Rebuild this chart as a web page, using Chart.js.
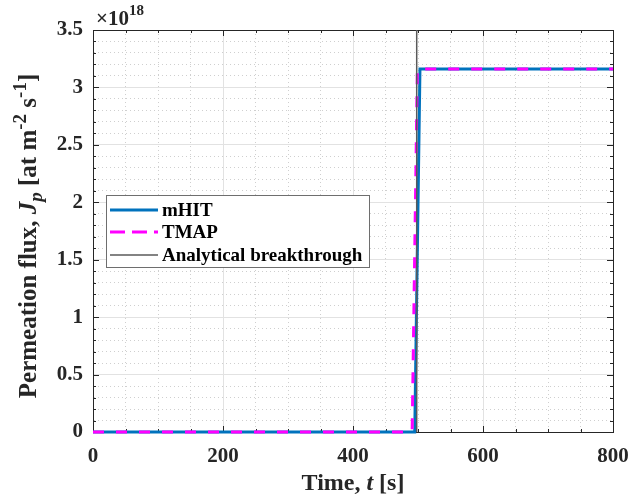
<!DOCTYPE html>
<html>
<head>
<meta charset="utf-8">
<script src="https://cdn.jsdelivr.net/npm/chart.js@4.4.1/dist/chart.umd.min.js"></script>
<style>
  html, body { margin: 0; padding: 0; background: #fff; }
</style>
</head>
<body>
<canvas id="myChart" width="632" height="500"></canvas>
<script>
// data (flux in units of 1e18 at m^-2 s^-1)
const mhitTime = [0, 495, 503, 800];
const mhitFlux = [0, 0, 3.16, 3.16];
const tmapTime = [0, 491, 499, 800];
const tmapFlux = [0, 0, 3.16, 3.16];
const breakthroughTime = 498;
const timeRange = [0, 800];
const fluxRange = [0, 3.5];
const xTickLabels = [0, 200, 400, 600, 800];
const yTickLabels = [0, 0.5, 1, 1.5, 2, 2.5, 3, 3.5];
const fluxExponent = "18";
const seriesLabels = ["mHIT", "TMAP", "Analytical breakthrough"];

const FONT = "'Liberation Serif', 'Times New Roman', serif";
const INK = "#262626";

const isMajorX = v => xTickLabels.some(l => Math.abs(l - v) < 1e-6);
const isMajorY = v => yTickLabels.some(l => Math.abs(l - v) < 1e-6);

const toPoints = (xs, ys) => xs.map((x, i) => ({ x: x, y: ys[i] }));

// MATLAB-ish box, inward ticks, labels and legend
const decorations = {
  id: "decorations",
  beforeDatasetsDraw(chart) {
    const ctx = chart.ctx;
    const a = chart.chartArea;
    const xs = chart.scales.x, ys = chart.scales.y;
    ctx.save();
    ctx.strokeStyle = INK;
    ctx.lineWidth = 1;
    ctx.beginPath();
    xs.ticks.forEach(t => {
      const px = Math.round(xs.getPixelForValue(t.value)) + 0.5;
      const len = isMajorX(t.value) ? 6 : 3;
      ctx.moveTo(px, a.bottom); ctx.lineTo(px, a.bottom - len);
      ctx.moveTo(px, a.top); ctx.lineTo(px, a.top + len);
    });
    ys.ticks.forEach(t => {
      const py = Math.round(ys.getPixelForValue(t.value)) + 0.5;
      const len = isMajorY(t.value) ? 6 : 3;
      ctx.moveTo(a.left, py); ctx.lineTo(a.left + len, py);
      ctx.moveTo(a.right, py); ctx.lineTo(a.right - len, py);
    });
    ctx.stroke();
    ctx.strokeRect(Math.round(a.left) + 0.5, Math.round(a.top) + 0.5,
      Math.round(a.right - a.left), Math.round(a.bottom - a.top));
    ctx.restore();
  },
  afterDatasetsDraw(chart) {
    const ctx = chart.ctx;
    const a = chart.chartArea;
    ctx.save();

    // exponent
    ctx.fillStyle = INK;
    ctx.textBaseline = "alphabetic";
    ctx.textAlign = "left";
    ctx.font = "bold 21px " + FONT;
    ctx.fillText("\u00d710", a.left + 3, a.top - 5);
    const w10 = ctx.measureText("\u00d710").width;
    ctx.font = "bold 15px " + FONT;
    ctx.fillText(fluxExponent, a.left + 3 + w10, a.top - 15);

    // x title
    const xParts = [
      { t: "Time, ", f: "bold 24px " },
      { t: "t", f: "italic bold 24px " },
      { t: " [s]", f: "bold 24px " }
    ];
    drawParts(ctx, xParts, (a.left + a.right) / 2, 490);

    // y title (rotated)
    const yParts = [
      { t: "Permeation flux, ", f: "bold 25px " },
      { t: "J", f: "italic bold 25px " },
      { t: "p", f: "italic bold 19px ", dy: 6 },
      { t: " [at m", f: "bold 25px " },
      { t: "-2", f: "bold 19px ", dy: -10 },
      { t: " s", f: "bold 25px " },
      { t: "-1", f: "bold 19px ", dy: -10 },
      { t: "]", f: "bold 25px " }
    ];
    ctx.save();
    ctx.translate(36, 236);
    ctx.rotate(-Math.PI / 2);
    drawParts(ctx, yParts, 0, 0);
    ctx.restore();

    // legend
    const lx = 106, ly = 195, lw = 263, lh = 72;
    ctx.fillStyle = "#ffffff";
    ctx.fillRect(lx, ly, lw, lh);
    ctx.strokeStyle = "#6e6e6e";
    ctx.lineWidth = 1;
    ctx.strokeRect(lx + 0.5, ly + 0.5, lw, lh);
    const rows = [210, 232, 255];
    chart.data.datasets.forEach((ds, i) => {
      ctx.save();
      ctx.strokeStyle = ds.borderColor;
      ctx.lineWidth = ds.borderWidth;
      ctx.setLineDash(i === 1 ? [15, 7] : []);
      ctx.beginPath();
      ctx.moveTo(110, rows[i]);
      ctx.lineTo(158, rows[i]);
      ctx.stroke();
      ctx.restore();
      ctx.fillStyle = "#000";
      ctx.font = "bold 19px " + FONT;
      ctx.textBaseline = "middle";
      ctx.textAlign = "left";
      ctx.fillText(ds.label, 162, rows[i] + 1);
    });

    ctx.restore();
  }
};

function drawParts(ctx, parts, cx, baseY) {
  let total = 0;
  parts.forEach(p => { ctx.font = p.f + FONT; p.w = ctx.measureText(p.t).width; total += p.w; });
  let x = cx - total / 2;
  ctx.fillStyle = INK;
  ctx.textAlign = "left";
  ctx.textBaseline = "alphabetic";
  parts.forEach(p => {
    ctx.font = p.f + FONT;
    ctx.fillText(p.t, x, baseY + (p.dy || 0));
    x += p.w;
  });
}

const ctx = document.getElementById("myChart").getContext("2d");
const myChart = new Chart(ctx, {
  type: "line",
  data: {
    datasets: [
      {
        label: seriesLabels[0],
        data: toPoints(mhitTime, mhitFlux),
        borderColor: "#0072BD",
        borderWidth: 3,
        pointRadius: 0,
        tension: 0,
        fill: false,
        clip: 2,
        order: 2
      },
      {
        label: seriesLabels[1],
        data: toPoints(tmapTime, tmapFlux),
        borderColor: "#FF00FF",
        borderWidth: 3,
        borderDash: [11, 12],
        pointRadius: 0,
        tension: 0,
        fill: false,
        clip: 2,
        order: 1
      },
      {
        label: seriesLabels[2],
        data: toPoints([breakthroughTime, breakthroughTime], fluxRange),
        borderColor: "#5a5a5a",
        borderWidth: 1.5,
        pointRadius: 0,
        tension: 0,
        fill: false,
        order: 0
      }
    ]
  },
  options: {
    responsive: false,
    animation: false,
    devicePixelRatio: 1,
    layout: { padding: { left: 0, right: 19, top: 30, bottom: 0 } },
    plugins: { legend: { display: false }, tooltip: { enabled: false } },
    scales: {
      x: {
        type: "linear",
        min: timeRange[0],
        max: timeRange[1],
        afterFit: s => { s.height = 68; s.paddingLeft = 0; s.paddingRight = 0; },
        ticks: {
          stepSize: 50,
          autoSkip: false,
          maxRotation: 0,
          padding: 12,
          color: INK,
          font: { family: FONT, weight: "bold", size: 21 },
          callback: v => (isMajorX(v) ? String(Math.round(v)) : "")
        },
        grid: {
          drawTicks: false,
          color: c => (c.tick && isMajorX(c.tick.value) ? "#e2e2e2" : "#cfcfcf"),
          lineWidth: 1
        },
        border: {
          color: INK,
          width: 1,
          dash: c => (c.tick && !isMajorX(c.tick.value) ? [1, 3] : [])
        }
      },
      y: {
        min: fluxRange[0],
        max: fluxRange[1],
        afterFit: s => { s.width = 93; s.paddingTop = 0; s.paddingBottom = 0; },
        ticks: {
          stepSize: 0.1,
          autoSkip: false,
          padding: 10,
          color: INK,
          font: { family: FONT, weight: "bold", size: 21 },
          callback: v => (isMajorY(v) ? String(Math.round(v * 10) / 10) : "")
        },
        grid: {
          drawTicks: false,
          color: c => (c.tick && isMajorY(c.tick.value) ? "#e2e2e2" : "#cfcfcf"),
          lineWidth: 1
        },
        border: {
          color: INK,
          width: 1,
          dash: c => (c.tick && !isMajorY(c.tick.value) ? [1, 3] : [])
        }
      }
    }
  },
  plugins: [decorations]
});
</script>
</body>
</html>
